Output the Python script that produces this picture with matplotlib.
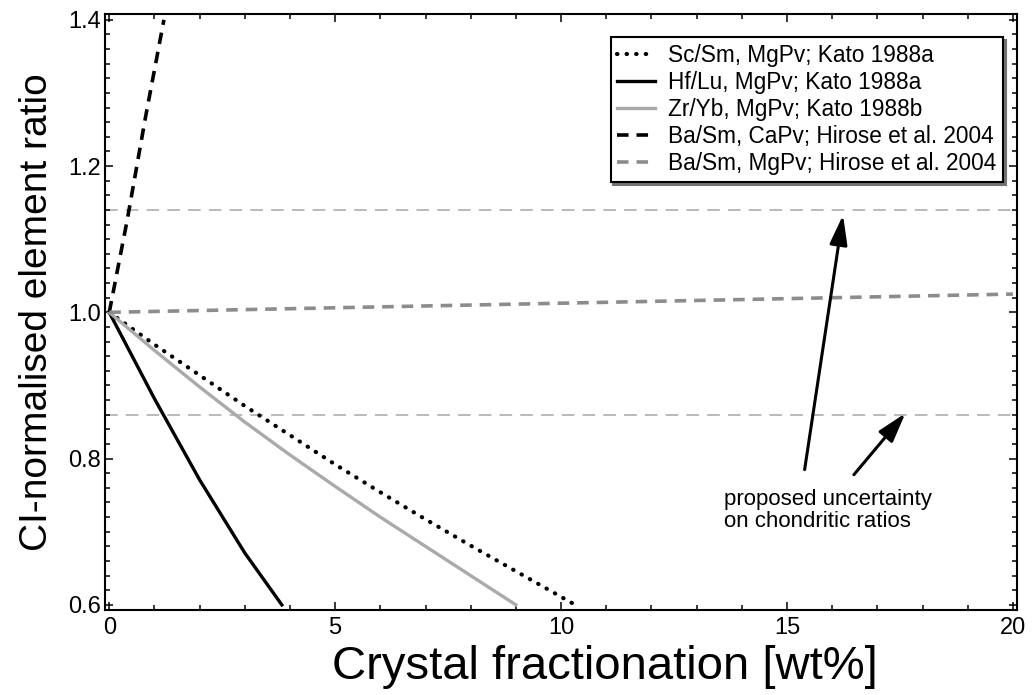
import matplotlib.pyplot as plt
from matplotlib.ticker import MultipleLocator, FormatStrFormatter

plt.rcParams['font.family'] = ['Liberation Sans', 'DejaVu Sans']

# crystal fractionation [wt%] vs CI-normalised ratio
sc_x = [0, 1, 2, 3, 4, 5, 6, 7, 8, 9, 10, 10.4]
sc_y = [1.0, 0.956, 0.914, 0.872, 0.832, 0.792, 0.754, 0.717, 0.681, 0.646, 0.611, 0.597]

hf_x = [0, 1, 2, 3, 3.82]
hf_y = [1.0, 0.882, 0.771, 0.671, 0.6]

zr_x = [0, 1, 2, 3, 4, 5, 6, 7, 8, 9]
zr_y = [1.0, 0.948, 0.898, 0.850, 0.805, 0.762, 0.720, 0.680, 0.640, 0.600]

ba_ca_x = [0, 0.4, 0.8, 1.21]
ba_ca_y = [1.0, 1.127, 1.266, 1.40]

ba_mg_x = [0, 20]
ba_mg_y = [1.0, 1.025]

uncert_lo = 0.86
uncert_hi = 1.14

fig = plt.figure(figsize=(10.33, 6.95), dpi=100)
ax = fig.add_axes([0.1016, 0.1223, 0.8829, 0.8576])

ax.axhline(uncert_lo, color='#b4b4b4', lw=1.3, dashes=(7, 4.5), zorder=1)
ax.axhline(uncert_hi, color='#b4b4b4', lw=1.3, dashes=(7, 4.5), zorder=1)

ax.plot(sc_x, sc_y, color='black', lw=3.0, linestyle=(0, (0.1, 2.2)),
        dash_capstyle='round', label='Sc/Sm, MgPv; Kato 1988a')
ax.plot(hf_x, hf_y, color='black', lw=2.4, label='Hf/Lu, MgPv; Kato 1988a')
ax.plot(zr_x, zr_y, color='#aaaaaa', lw=2.4, label='Zr/Yb, MgPv; Kato 1988b')
ax.plot(ba_ca_x, ba_ca_y, color='black', lw=2.6, dashes=(3.2, 2.2),
        label='Ba/Sm, CaPv; Hirose et al. 2004')
ax.plot(ba_mg_x, ba_mg_y, color='#8c8c8c', lw=2.6, dashes=(3.2, 2.2),
        label='Ba/Sm, MgPv; Hirose et al. 2004')

arrow = dict(arrowstyle='-|>,head_length=0.9,head_width=0.27', color='black',
             lw=2.2, mutation_scale=20, shrinkA=0, shrinkB=0)
ax.annotate('', xy=(16.24, 1.133), xytext=(15.39, 0.785), arrowprops=arrow)
ax.annotate('', xy=(17.62, 0.862), xytext=(16.48, 0.778), arrowprops=arrow)
ax.text(13.6, 0.758, 'proposed uncertainty\non chondritic ratios', fontsize=16,
        va='top', ha='left', linespacing=1.05)

ax.set_xlim(-0.095, 20.09)
ax.set_ylim(0.593, 1.408)
ax.xaxis.set_major_locator(MultipleLocator(5))
ax.xaxis.set_minor_locator(MultipleLocator(1))
ax.yaxis.set_major_locator(MultipleLocator(0.2))
ax.yaxis.set_minor_locator(MultipleLocator(0.02))
ax.yaxis.set_major_formatter(FormatStrFormatter('%.1f'))
ax.tick_params(which='both', direction='in', top=True, right=True,
               labelsize=17, width=1.1)
ax.tick_params(which='major', length=6)
ax.tick_params(which='minor', length=3.3)
ax.tick_params(axis='x', pad=5)
ax.tick_params(axis='y', pad=3)
for s in ax.spines.values():
    s.set_linewidth(1.5)

ax.set_xlabel('Crystal fractionation [wt%]', fontsize=34, labelpad=4, x=0.548)
ax.set_ylabel('CI-normalised element ratio', fontsize=28, labelpad=9)

leg = ax.legend(loc='upper right', bbox_to_anchor=(0.985, 0.961), borderaxespad=0,
                fontsize=16.3, handlelength=1.65, handletextpad=0.6, labelspacing=0.18,
                borderpad=0.3, fancybox=False, framealpha=1, edgecolor='black',
                shadow={'color': '0.45', 'alpha': 1})
leg.get_frame().set_linewidth(1.5)

fig.savefig('out.png', dpi=100)
